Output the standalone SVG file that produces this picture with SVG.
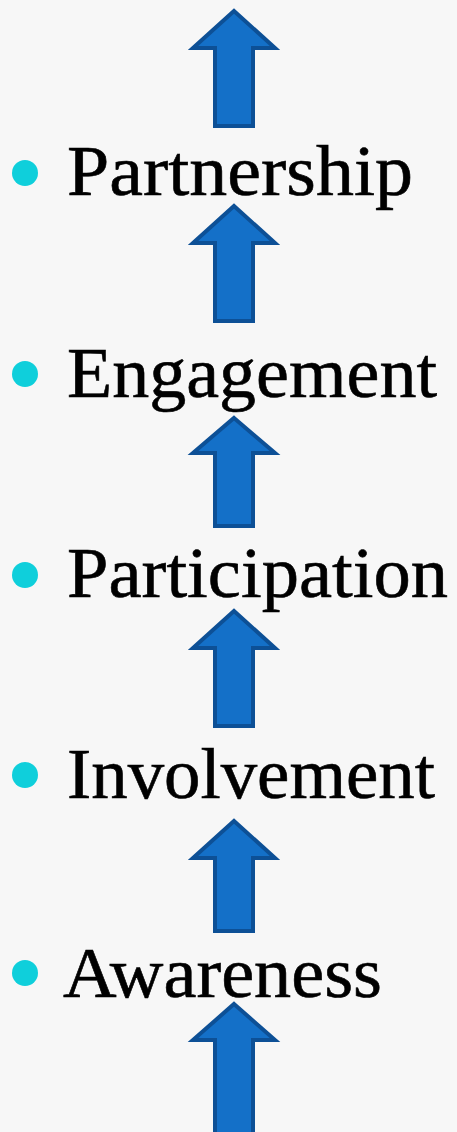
<svg xmlns="http://www.w3.org/2000/svg" width="457" height="1132" viewBox="0 0 457 1132">
<style>
.lbl{font-family:"Liberation Serif","Times New Roman",serif;font-size:72px;fill:#000;stroke:#000;stroke-width:0.6}
.dot{fill:#0fcfdb}
.arr{fill:#1470c8;stroke:#0d5096;stroke-width:4;stroke-linejoin:miter}
</style>
<rect width="457" height="1132" fill="#f7f7f7"/>
<g id="node-partnership"><circle class="dot" cx="25" cy="173" r="13"/><text class="lbl" x="67" y="195" textLength="346" lengthAdjust="spacingAndGlyphs">Partnership</text></g>
<g id="node-engagement"><circle class="dot" cx="25" cy="374" r="13"/><text class="lbl" x="67" y="397" textLength="370" lengthAdjust="spacingAndGlyphs">Engagement</text></g>
<g id="node-participation"><circle class="dot" cx="25" cy="575" r="13"/><text class="lbl" x="67" y="597" textLength="381" lengthAdjust="spacingAndGlyphs">Participation</text></g>
<g id="node-involvement"><circle class="dot" cx="25" cy="775" r="13"/><text class="lbl" x="67" y="798" textLength="368" lengthAdjust="spacingAndGlyphs">Involvement</text></g>
<g id="node-awareness"><circle class="dot" cx="25" cy="973" r="13"/><text class="lbl" x="63" y="997" textLength="319" lengthAdjust="spacingAndGlyphs">Awareness</text></g>
<g id="connectors">
<path class="arr" d="M234,11 L275,48 L253,48 L253,126 L215,126 L215,48 L193,48 Z"/>
<path class="arr" d="M234,206 L275,243 L253,243 L253,321 L215,321 L215,243 L193,243 Z"/>
<path class="arr" d="M234,418 L275,453 L253,453 L253,526 L215,526 L215,453 L193,453 Z"/>
<path class="arr" d="M234,611 L275,648 L253,648 L253,726 L215,726 L215,648 L193,648 Z"/>
<path class="arr" d="M234,821 L275,858 L253,858 L253,931 L215,931 L215,858 L193,858 Z"/>
<path class="arr" d="M234,1004 L275,1040 L253,1040 L253,1140 L215,1140 L215,1040 L193,1040 Z"/>
</g>
</svg>
